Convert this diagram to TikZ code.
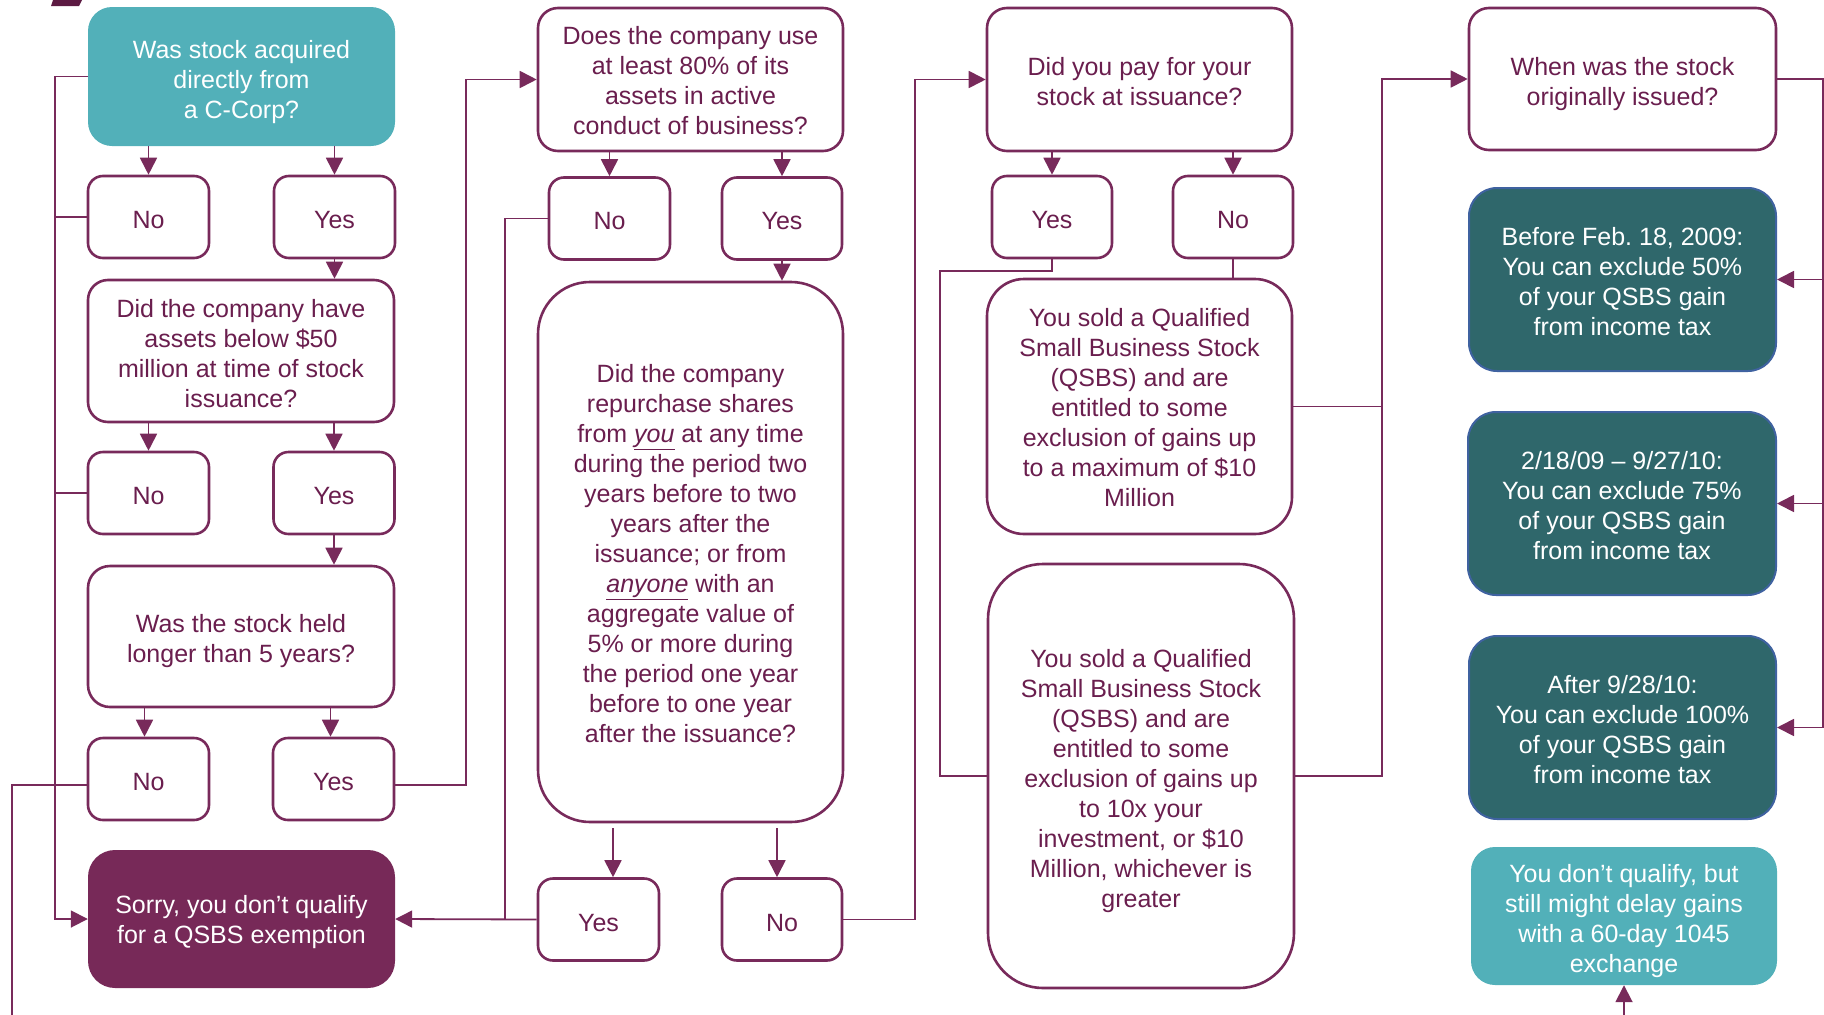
\documentclass[tikz,border=0pt]{standalone}
\usepackage{fontspec}
\setmainfont{Liberation Sans}
\usetikzlibrary{arrows.meta}
\definecolor{purp}{HTML}{782A5B}
\definecolor{ptext}{HTML}{6A1E4E}
\definecolor{tealL}{HTML}{52B0B9}
\definecolor{tealD}{HTML}{2F676B}
\definecolor{blueB}{HTML}{3F62A0}
\definecolor{sorryF}{HTML}{772958}
\definecolor{darkmark}{HTML}{5C1A42}
\newcommand{\firstup}[1]{\rule{0pt}{#1}}
\frenchspacing
\begin{document}
\begin{tikzpicture}[x=1pt,y=-1pt,
  every node/.style={font=\fontsize{25}{30}\selectfont, align=center, inner sep=0pt},
  tsh/.style={execute at begin node={\rule{0pt}{#1}}},
  qbox/.style={draw=purp, line width=2.6pt, fill=white, text=ptext, rounded corners=20pt},
  abox/.style={qbox, rounded corners=15pt, minimum width=121pt, minimum height=82pt, tsh=23pt},
  darkbox/.style={fill=tealD, draw=blueB, line width=2pt, text=white, rounded corners=28pt, minimum width=307pt, minimum height=183pt},
  tealbox/.style={fill=tealL, text=white, rounded corners=24pt},
  conn/.style={draw=purp, line width=1.8pt},
  arr/.style={conn, -{Triangle[length=17pt,width=17pt]}}]
\useasboundingbox (0,0) rectangle (1824,1015);

% small mark at top left
\fill[darkmark] (53,0) -- (82,0) -- (79,6) -- (51,6) -- cycle;

% ---------- column 1 ----------
\node[tealbox, minimum width=307pt, minimum height=139pt] (q1) at (241.5,76.5) {\firstup{29pt}Was stock acquired\\directly from\\a C-Corp?};
\node[abox] (no1) at (148.5,217) {No};
\node[abox] (yes1) at (334.5,217) {Yes};
\node[qbox, minimum width=306pt, minimum height=142pt] (q2) at (241,351) {\firstup{23pt}Did the company have\\assets below \$50\\million at time of stock\\issuance?};
\node[abox] (no2) at (148.5,493) {No};
\node[abox] (yes2) at (334,493) {Yes};
\node[qbox, rounded corners=22pt, minimum width=306pt, minimum height=141pt] (q3) at (241,636.5) {\firstup{27.5pt}Was the stock held\\longer than 5 years?};
\node[abox] (no3) at (148.5,779) {No};
\node[abox] (yes3) at (333.5,779) {Yes};
\node[fill=sorryF, text=white, rounded corners=27pt, minimum width=307pt, minimum height=138pt] (sorry) at (241.5,919) {\firstup{25pt}Sorry, you don’t qualify\\for a QSBS exemption};

% ---------- column 2 ----------
\node[qbox, minimum width=305pt, minimum height=143pt] (does) at (690.5,79.5) {\firstup{21pt}Does the company use\\at least 80\% of its\\assets in active\\conduct of business?};
\node[abox] (nm) at (609.5,218.5) {No};
\node[abox, minimum width=120pt] (ym) at (782,218.5) {Yes};
\node[qbox, rounded corners=52pt, minimum width=305pt, minimum height=540pt] (rep) at (690.5,552) {\firstup{21pt}Did the company\\repurchase shares\\from \underline{\textit{you}} at any time\\during the period two\\years before to two\\years after the\\issuance; or from\\\underline{\textit{anyone}} with an\\aggregate value of\\5\% or more during\\the period one year\\before to one year\\after the issuance?};
\node[abox, tsh=25pt] (yb) at (598.5,919.5) {Yes};
\node[abox, tsh=25pt, minimum width=120pt] (nb) at (782,919.5) {No};

% ---------- column 3 ----------
\node[qbox, minimum width=305pt, minimum height=143pt] (pay) at (1139.5,79.5) {\firstup{23pt}Did you pay for your\\stock at issuance?};
\node[abox, minimum width=120pt] (yr) at (1052,217) {Yes};
\node[abox, minimum width=120pt] (nr) at (1233,217) {No};
\node[qbox, rounded corners=37pt, minimum width=305pt, minimum height=255pt] (qs1) at (1139.5,406.5) {\firstup{21pt}You sold a Qualified\\Small Business Stock\\(QSBS) and are\\entitled to some\\exclusion of gains up\\to a maximum of \$10\\Million};
\node[qbox, rounded corners=55pt, minimum width=306pt, minimum height=424pt] (qs2) at (1141,776) {\firstup{27.5pt}You sold a Qualified\\Small Business Stock\\(QSBS) and are\\entitled to some\\exclusion of gains up\\to 10x your\\investment, or \$10\\Million, whichever is\\greater};

% ---------- column 4 ----------
\node[qbox, minimum width=307pt, minimum height=142pt] (when) at (1622.5,79) {\firstup{27.5pt}When was the stock\\originally issued?};
\node[darkbox] (before) at (1622.5,279.5) {\firstup{23pt}Before Feb.\ 18, 2009:\\You can exclude 50\%\\of your QSBS gain\\from income tax};
\node[darkbox, minimum width=308pt] (mid) at (1622,503.5) {\firstup{23pt}2/18/09 – 9/27/10:\\You can exclude 75\%\\of your QSBS gain\\from income tax};
\node[darkbox] (after) at (1622.5,727.5) {\firstup{23pt}After 9/28/10:\\You can exclude 100\%\\of your QSBS gain\\from income tax};
\node[tealbox, minimum width=306pt, minimum height=138pt] (dq) at (1624,916) {\firstup{27.5pt}You don’t qualify, but\\still might delay gains\\with a 60-day 1045\\exchange};

% ---------- helper coordinates ----------
\coordinate (L) at (55,0);
\coordinate (B1) at (12,1015);
\coordinate (R) at (1382,0);
\coordinate (RR) at (1823,0);
\coordinate (B2) at (1624,1015);

% ---------- connectors column 1 ----------
\draw[arr] (q1.south -| no1.north) -- (no1.north);
\draw[arr] (q1.south -| yes1.north) -- (yes1.north);
\draw[arr] (yes1.south) -- (yes1.south |- q2.north);
\draw[arr] (q2.south -| no2.north) -- (no2.north);
\draw[arr] (q2.south -| yes2.north) -- (yes2.north);
\draw[arr] (yes2.south) -- (yes2.south |- q3.north);
\draw[arr] ([xshift=-4pt]q3.south -| no3.north) -- ([xshift=-4pt]no3.north);
\draw[arr] ([xshift=-3pt]q3.south -| yes3.north) -- ([xshift=-3pt]yes3.north);
\draw[arr] (q1.west) -- (q1.west -| L) -- (L |- sorry.west) -- (sorry.west);
\draw[conn] (no1.west) -- (no1.west -| L);
\draw[conn] (no2.west) -- (no2.west -| L);
\draw[conn] ([yshift=-6pt]no3.west) -| (B1);
\draw[arr] ([yshift=-6pt]yes3.east) -- ++(71,0) |- (does.west);

% ---------- connectors column 2 ----------
\draw[arr] (does.south -| nm.north) -- (nm.north);
\draw[arr] (does.south -| ym.north) -- (ym.north);
\draw[arr] (ym.south) -- (ym.south |- rep.north);
\draw[arr] ([xshift=-77.5pt,yshift=-5pt]rep.south) -- ([xshift=14.5pt]yb.north);
\draw[arr] ([xshift=86.5pt,yshift=-5pt]rep.south) -- ([xshift=-5pt]nb.north);
\draw[conn] (nm.west) -| ([xshift=-32pt]yb.west);
\draw[arr] (yb.west) -- (sorry.east);
\draw[arr] (nb.east) -- ++(72,0) |- (pay.west);

% ---------- connectors column 3 ----------
\draw[arr] (pay.south -| yr.north) -- (yr.north);
\draw[arr] (pay.south -| nr.north) -- (nr.north);
\draw[conn] (yr.south) -- ++(0,12) -| ([xshift=-47pt]qs2.west) -- (qs2.west);
\draw[conn] (nr.south) -- (nr.south |- qs1.north);
\draw[conn] (qs1.east) -- (qs1.east -| R);
\draw[arr] (qs2.east) -- (qs2.east -| R) -- (R |- when.west) -- (when.west);

% ---------- connectors column 4 ----------
\draw[arr] (when.east) -- (when.east -| RR) -- (RR |- after.east) -- (after.east);
\draw[arr] (RR |- before.east) -- (before.east);
\draw[arr] (RR |- mid.east) -- (mid.east);
\draw[arr] (B2) -- (dq.south);
\end{tikzpicture}
\end{document}
